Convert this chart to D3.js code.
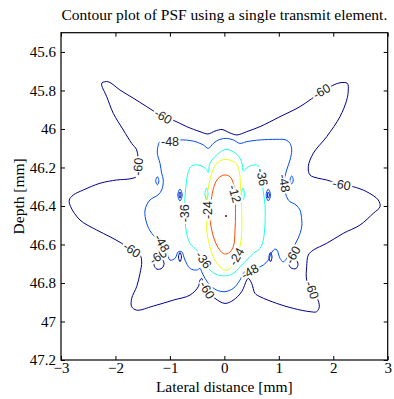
<!DOCTYPE html>
<html>
<head>
<meta charset="utf-8">
<script src="https://cdn.jsdelivr.net/npm/d3@7"></script>
<style>
  body { margin: 0; background: #fff; }
  svg text { font-family: "Liberation Serif", "Times New Roman", serif; }
  .clabel {
    font-family: "Liberation Sans", Arial, sans-serif;
    font-size: 12.5px;
    fill: #222;
    paint-order: stroke;
    stroke: #fff;
    stroke-width: 4px;
  }
</style>
</head>
<body>
<div id="chart"></div>
<script>
const xTicks = [-3, -2, -1, 0, 1, 2, 3];
const yTicks = [45.6, 45.8, 46, 46.2, 46.4, 46.6, 46.8, 47, 47.2];
const levels = [-60, -48, -36, -24, -12, 0];

// contour lines, [lateral mm, depth mm]
const level60 = [[-2.247,45.760],[-2.131,45.755],[-1.916,45.798],[-1.678,45.839],[-1.426,45.884],[-1.127,45.936],[-0.943,45.954],[-0.691,45.988],[-0.447,46.014],[-0.300,46.026],[-0.172,46.011],[-0.043,46.003],[0.104,46.021],[0.232,46.031],[0.410,46.014],[0.655,45.988],[1.022,45.936],[1.389,45.884],[1.788,45.806],[1.940,45.781],[2.124,45.760],[2.258,45.763],[2.276,45.798],[2.247,45.850],[2.124,45.936],[1.880,46.040],[1.634,46.126],[1.542,46.196],[1.573,46.239],[1.725,46.256],[1.880,46.265],[2.155,46.291],[2.368,46.300],[2.614,46.326],[2.827,46.369],[2.859,46.404],[2.736,46.438],[2.491,46.499],[2.185,46.542],[1.880,46.594],[1.634,46.629],[1.542,46.655],[1.512,46.716],[1.512,46.785],[1.604,46.837],[1.707,46.880],[1.744,46.923],[1.696,46.949],[1.573,46.949],[1.266,46.932],[0.961,46.906],[0.655,46.871],[0.563,46.854],[0.502,46.802],[0.440,46.776],[0.410,46.785],[0.319,46.845],[0.164,46.889],[0.012,46.906],[-0.172,46.880],[-0.324,46.837],[-0.392,46.800],[-0.416,46.776],[-0.447,46.785],[-0.478,46.819],[-0.631,46.863],[-0.938,46.889],[-1.305,46.920],[-1.610,46.941],[-1.702,46.923],[-1.702,46.880],[-1.610,46.819],[-1.549,46.750],[-1.518,46.690],[-1.549,46.655],[-1.702,46.629],[-1.885,46.594],[-2.100,46.560],[-2.344,46.525],[-2.651,46.473],[-2.822,46.404],[-2.848,46.369],[-2.774,46.343],[-2.590,46.317],[-2.284,46.282],[-1.977,46.265],[-1.732,46.259],[-1.605,46.245],[-1.580,46.196],[-1.610,46.109],[-1.702,46.075],[-1.856,46.005],[-2.039,45.919],[-2.161,45.832],[-2.253,45.773]];

const level48 = [[-1.213,46.083],[-1.182,46.066],[-0.998,46.066],[-0.815,46.057],[-0.570,46.063],[-0.387,46.083],[-0.295,46.101],[-0.203,46.075],[-0.080,46.054],[0.043,46.049],[0.164,46.057],[0.287,46.075],[0.410,46.066],[0.655,46.057],[0.961,46.054],[1.132,46.057],[1.206,46.075],[1.237,46.109],[1.206,46.161],[1.145,46.213],[1.096,46.282],[1.174,46.369],[1.316,46.395],[1.389,46.421],[1.421,46.473],[1.421,46.508],[1.358,46.566],[1.237,46.629],[1.145,46.672],[1.083,46.690],[1.022,46.672],[0.967,46.629],[0.930,46.624],[0.875,46.639],[0.807,46.681],[0.715,46.707],[0.594,46.724],[0.471,46.742],[0.410,46.735],[0.348,46.750],[0.287,46.785],[0.164,46.828],[0.012,46.845],[-0.140,46.837],[-0.264,46.811],[-0.355,46.776],[-0.416,46.742],[-0.447,46.724],[-0.508,46.733],[-0.631,46.724],[-0.723,46.681],[-0.783,46.638],[-0.846,46.638],[-0.906,46.672],[-0.998,46.681],[-1.059,46.638],[-1.151,46.594],[-1.334,46.542],[-1.426,46.490],[-1.457,46.421],[-1.366,46.369],[-1.219,46.343],[-1.151,46.317],[-1.121,46.265],[-1.151,46.230],[-1.182,46.178],[-1.231,46.126]];

const level36 = [[-0.662,46.222],[-0.600,46.192],[-0.478,46.187],[-0.387,46.196],[-0.324,46.213],[-0.295,46.226],[-0.264,46.178],[-0.140,46.135],[0.012,46.107],[0.164,46.118],[0.287,46.152],[0.333,46.192],[0.348,46.218],[0.440,46.196],[0.594,46.187],[0.664,46.207],[0.686,46.255],[0.715,46.326],[0.747,46.395],[0.747,46.490],[0.715,46.577],[0.655,46.620],[0.532,46.646],[0.410,46.681],[0.287,46.716],[0.164,46.750],[0.043,46.762],[-0.111,46.759],[-0.264,46.733],[-0.387,46.681],[-0.508,46.629],[-0.631,46.594],[-0.704,46.525],[-0.723,46.438],[-0.723,46.352],[-0.691,46.265]];

const level24 = [[0.012,46.158],[0.122,46.164],[0.227,46.182],[0.279,46.229],[0.297,46.300],[0.315,46.404],[0.319,46.525],[0.287,46.612],[0.227,46.664],[0.135,46.716],[0.030,46.735],[-0.049,46.724],[-0.172,46.681],[-0.264,46.612],[-0.324,46.525],[-0.309,46.421],[-0.319,46.352],[-0.282,46.286],[-0.232,46.230],[-0.163,46.187],[-0.089,46.167]];

const level12 = [[-0.006,46.239],[0.104,46.248],[0.168,46.286],[0.196,46.352],[0.205,46.438],[0.196,46.525],[0.164,46.612],[0.073,46.646],[-0.019,46.647],[-0.140,46.603],[-0.232,46.525],[-0.264,46.438],[-0.232,46.352],[-0.181,46.291],[-0.111,46.256]];

const peak0 = [0.03, 46.452];

// small closed loops
const islands60 = [
  [[-0.815,46.328],[-0.796,46.343],[-0.815,46.359],[-0.833,46.343]],
  [[0.807,46.328],[0.826,46.343],[0.807,46.359],[0.789,46.343]],
  [[-0.815,46.642],[-0.787,46.665],[-0.815,46.689],[-0.842,46.665]],
  [[0.848,46.642],[0.875,46.665],[0.848,46.689],[0.820,46.665]],
  [[-1.274,46.676],[-1.163,46.671],[-1.108,46.697],[-1.145,46.723],[-1.237,46.728],[-1.292,46.707]],
  [[1.206,46.681],[1.316,46.681],[1.353,46.702],[1.316,46.725],[1.224,46.722],[1.187,46.702]]
];
const islands48 = [
  [[-1.231,46.248],[-1.202,46.269],[-1.231,46.290],[-1.261,46.269]],
  [[1.237,46.244],[1.266,46.265],[1.237,46.286],[1.207,46.265]],
  [[-0.815,46.312],[-0.774,46.343],[-0.815,46.374],[-0.855,46.343]],
  [[0.807,46.312],[0.848,46.343],[0.807,46.374],[0.767,46.343]]
];
const islands36 = [
  [[-0.328,46.307],[-0.300,46.338],[-0.328,46.369],[-0.355,46.338]],
  [[0.3425,46.307],[0.370,46.338],[0.3425,46.369],[0.315,46.338]]
];

// contour labels: [level, x, depth, text angle]
const labelSpots = [
  [-60, -1.127, 45.936, 30], [-60, -1.580, 46.196, -85], [-60, 1.788, 45.806, -30],
  [-60, 2.155, 46.291, 10], [-60, 1.604, 46.837, 70], [-60, 1.266, 46.655, -60],
  [-60, -0.324, 46.837, 60], [-60, -1.702, 46.629, 35], [-60, -1.213, 46.664, -35],
  [-48, -0.998, 46.066, 0], [-48, 1.096, 46.282, 80], [-48, 0.471, 46.742, -30],
  [-48, -1.151, 46.594, 60],
  [-36, 0.686, 46.250, 80], [-36, -0.387, 46.681, 55], [-36, -0.714, 46.438, -90],
  [-24, -0.309, 46.421, -90], [-24, 0.227, 46.664, -60],
  [-12, 0.186, 46.338, 75]
];

const contours = [
  { level: -60, rings: [level60, ...islands60] },
  { level: -48, rings: [level48, ...islands48] },
  { level: -36, rings: [level36, ...islands36] },
  { level: -24, rings: [level24] },
  { level: -12, rings: [level12] }
];

const width = 394, height = 399;
const margin = { top: 32.7, right: 6.3, bottom: 39, left: 61 };
const plotW = width - margin.left - margin.right;
const plotH = height - margin.top - margin.bottom;

const x = d3.scaleLinear().domain([-3, 3]).range([0, plotW]);
const y = d3.scaleLinear().domain([45.5, 47.2]).range([0, plotH]);

// jet colours for the levels
const color = d3.scaleOrdinal()
  .domain(levels)
  .range(['#00008f', '#004dff', '#1affe6', '#e6ff1a', '#ff4d00', '#800000']);

const svg = d3.select('#chart').append('svg')
  .attr('width', width)
  .attr('height', height);

const g = svg.append('g')
  .attr('transform', `translate(${margin.left}, ${margin.top})`);

const line = d3.line()
  .x((d) => x(d[0]))
  .y((d) => y(d[1]))
  .curve(d3.curveCatmullRomClosed.alpha(0.5));

contours.forEach((c) => {
  g.selectAll(null)
    .data(c.rings)
    .enter().append('path')
    .attr('d', line)
    .attr('fill', 'none')
    .attr('stroke', color(c.level))
    .attr('stroke-width', 1);
});

g.append('circle')
  .attr('cx', x(peak0[0]))
  .attr('cy', y(peak0[1]))
  .attr('r', 1)
  .attr('fill', color(0));

g.selectAll('.clabel')
  .data(labelSpots)
  .enter().append('text')
  .attr('class', 'clabel')
  .attr('text-anchor', 'middle')
  .attr('dominant-baseline', 'central')
  .attr('transform', (d) => `translate(${x(d[1])}, ${y(d[2])}) rotate(${d[3]})`)
  .text((d) => String(d[0]));

// axes, ticks pointing inward
const fmt = d3.format('~g');
g.append('g')
  .attr('transform', `translate(0, ${plotH})`)
  .call(d3.axisBottom(x).tickValues(xTicks).tickSizeInner(-4).tickSizeOuter(0).tickPadding(2).tickFormat(fmt));
g.append('g')
  .call(d3.axisLeft(y).tickValues(yTicks).tickSizeInner(-4).tickSizeOuter(0).tickPadding(5).tickFormat(fmt));
g.append('g')
  .call(d3.axisTop(x).tickValues(xTicks).tickSizeInner(-4).tickSizeOuter(0).tickFormat(''));
g.append('g')
  .attr('transform', `translate(${plotW}, 0)`)
  .call(d3.axisRight(y).tickValues(yTicks).tickSizeInner(-4).tickSizeOuter(0).tickFormat(''));

g.selectAll('.domain').remove();
g.selectAll('.tick line').attr('stroke', '#000');
g.selectAll('.tick text')
  .attr('fill', '#000')
  .style('font-family', '"Liberation Serif", "Times New Roman", serif')
  .style('font-size', '15px');

g.append('rect')
  .attr('width', plotW)
  .attr('height', plotH)
  .attr('fill', 'none')
  .attr('stroke', '#000')
  .attr('stroke-width', 1.2);

svg.append('text')
  .attr('x', margin.left + plotW / 2)
  .attr('y', 20)
  .attr('text-anchor', 'middle')
  .style('font-size', '15.5px')
  .text('Contour plot of PSF using a single transmit element.');

svg.append('text')
  .attr('x', margin.left + plotW / 2)
  .attr('y', 392)
  .attr('text-anchor', 'middle')
  .style('font-size', '15.5px')
  .text('Lateral distance [mm]');

svg.append('text')
  .attr('transform', `translate(24, ${margin.top + plotH / 2}) rotate(-90)`)
  .attr('text-anchor', 'middle')
  .style('font-size', '15.5px')
  .text('Depth [mm]');
</script>
</body>
</html>
